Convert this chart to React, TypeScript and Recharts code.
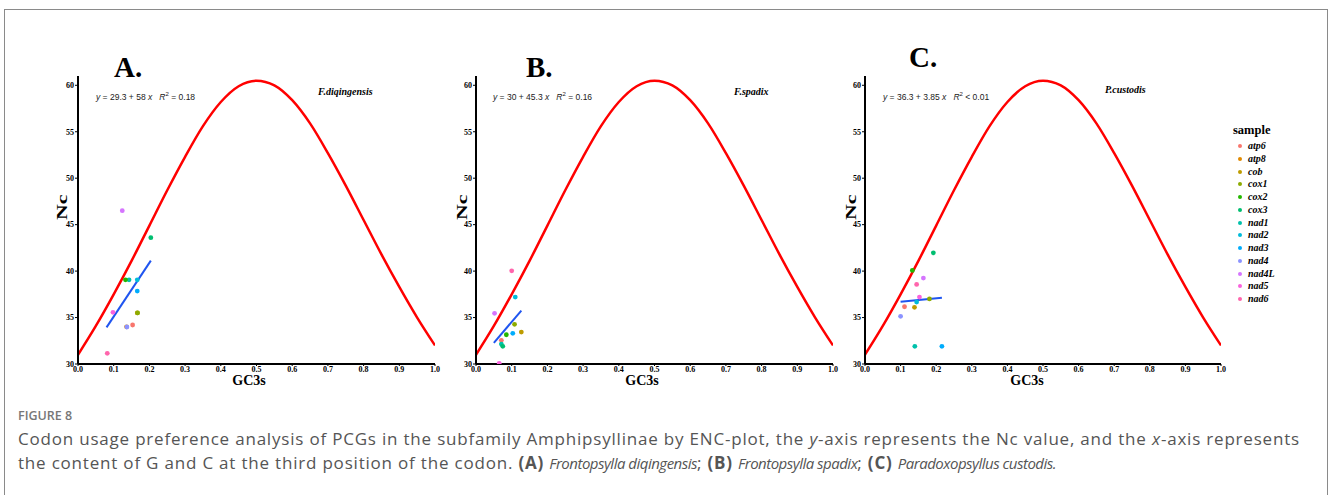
import React from 'react';
import { ComposedChart, Line, Scatter, Cell, XAxis, YAxis } from 'recharts';

// gene names and ggplot hue colours used in the legend
const genes = ['atp6', 'atp8', 'cob', 'cox1', 'cox2', 'cox3', 'nad1', 'nad2', 'nad3', 'nad4', 'nad4L', 'nad5', 'nad6'];
const geneColors = ['#F8766D', '#E18A00', '#BE9C00', '#8CAB00', '#24B700', '#00BE70', '#00C1AB', '#00BBDA', '#00ACFC', '#8B93FF', '#D575FE', '#F962DD', '#FF65AC'];

// expected ENC curve
const curveGc3 = [0, 0.05, 0.1, 0.15, 0.2, 0.25, 0.3, 0.35, 0.4, 0.45, 0.5, 0.55, 0.6, 0.65, 0.7, 0.75, 0.8, 0.85, 0.9, 0.95, 1.0];
const curveNc = [31.0, 34.1, 37.5, 41.1, 44.9, 48.7, 52.3, 55.6, 58.2, 59.9, 60.5, 60.0, 58.4, 55.9, 52.7, 49.2, 45.5, 41.8, 38.3, 35.0, 32.0];

const xTicks = [0, 0.1, 0.2, 0.3, 0.4, 0.5, 0.6, 0.7, 0.8, 0.9, 1.0];
const yTicks = [30, 35, 40, 45, 50, 55, 60];

// A. F.diqingensis
const genesA = ['atp8', 'nad4', 'atp6', 'cob', 'cox1', 'nad3', 'nad2', 'nad1', 'cox2', 'cox3', 'nad4L', 'nad5', 'nad6'];
const gc3A = [0.136, 0.137, 0.153, 0.166, 0.167, 0.166, 0.166, 0.143, 0.133, 0.204, 0.124, 0.098, 0.082];
const ncA = [34.0, 33.98, 34.2, 35.5, 35.5, 37.85, 39.06, 39.06, 39.06, 43.6, 46.5, 35.56, 31.15];
const fitA = { x: [0.08, 0.204], y: [33.94, 41.13] };

// B. F.spadix
const genesB = ['nad6', 'nad2', 'nad4L', 'cox1', 'cob', 'nad3', 'cox2', 'atp6', 'nad1', 'cox3', 'nad5'];
const gc3B = [0.1, 0.11, 0.052, 0.108, 0.127, 0.103, 0.085, 0.071, 0.071, 0.075, 0.065];
const ncB = [40.03, 37.2, 35.45, 34.27, 33.44, 33.3, 33.15, 32.55, 32.15, 31.9, 30.07];
const fitB = { x: [0.05, 0.127], y: [32.27, 35.75] };

// C. P.custodis
const genesC = ['cox3', 'cox2', 'nad4L', 'nad6', 'nad5', 'cox1', 'nad2', 'atp6', 'cob', 'nad4', 'nad1', 'nad3'];
const gc3C = [0.192, 0.133, 0.164, 0.145, 0.153, 0.181, 0.145, 0.111, 0.139, 0.1, 0.14, 0.216];
const ncC = [41.97, 40.07, 39.25, 38.57, 37.2, 37.0, 36.67, 36.16, 36.1, 35.13, 31.9, 31.9];
const fitC = { x: [0.1, 0.216], y: [36.69, 37.13] };

const serif = '"Liberation Serif", "Times New Roman", serif';
const sans = '"Liberation Sans", Arial, sans-serif';
const capFont = '"Open Sans", sans-serif';

const curve = curveGc3.map((x, i) => ({ x, y: curveNc[i] }));

type PanelProps = {
  left: number;
  mLeft: number;
  mRight: number;
  genesP: string[];
  gc3: number[];
  nc: number[];
  fit: { x: number[]; y: number[] };
};

const Dot = (props: any) => <circle cx={props.cx} cy={props.cy} r={2.4} fill={props.fill} />;

function Panel({ left, mLeft, mRight, genesP, gc3, nc, fit }: PanelProps) {
  const pts = gc3.map((x, i) => ({ x, y: nc[i], gene: genesP[i] }));
  const fitData = fit.x.map((x, i) => ({ x, y: fit.y[i] }));
  return (
    <div style={{ position: 'absolute', left, top: 0 }}>
      <ComposedChart width={460} height={400} margin={{ top: 76, right: mRight, left: mLeft, bottom: 16 }}>
        <XAxis
          type="number"
          dataKey="x"
          domain={[0, 1]}
          ticks={xTicks}
          tickFormatter={(v: number) => v.toFixed(1)}
          height={20}
          tickSize={2}
          tickMargin={0}
          axisLine={{ stroke: '#000', strokeWidth: 2 }}
          tickLine={{ stroke: '#000' }}
          tick={{ fontSize: 8, fontFamily: serif, fontWeight: 'bold', fill: '#000' }}
          allowDataOverflow
        />
        <YAxis
          type="number"
          dataKey="y"
          domain={[30, 61]}
          ticks={yTicks}
          width={30}
          tickSize={3}
          tickMargin={1}
          axisLine={{ stroke: '#000', strokeWidth: 2 }}
          tickLine={{ stroke: '#000' }}
          tick={{ fontSize: 8, fontFamily: serif, fontWeight: 'bold', fill: '#000' }}
          allowDataOverflow
        />
        <Line data={curve} dataKey="y" type="monotone" stroke="#FF0000" strokeWidth={2.5} dot={false} isAnimationActive={false} />
        <Line data={fitData} dataKey="y" type="linear" stroke="#1F55F0" strokeWidth={2} dot={false} isAnimationActive={false} />
        <Scatter data={pts} dataKey="y" isAnimationActive={false} shape={Dot}>
          {pts.map((p, i) => (
            <Cell key={i} fill={geneColors[genes.indexOf(p.gene)]} />
          ))}
        </Scatter>
      </ComposedChart>
    </div>
  );
}

const abs = (l: number, t: number, extra: React.CSSProperties = {}): React.CSSProperties => ({
  position: 'absolute',
  left: l,
  top: t,
  whiteSpace: 'nowrap',
  lineHeight: 1,
  ...extra,
});

function Eq({ l, t, a, b, r }: { l: number; t: number; a: string; b: string; r: string }) {
  return (
    <div style={abs(l, t, { fontFamily: sans, fontSize: 8.5, color: '#222' })}>
      <i>y</i> = {a} + {b} <i>x</i>&nbsp;&nbsp; <i>R</i>
      <sup style={{ fontSize: 6 }}>2</sup> {r}
    </div>
  );
}

const titleStyle: React.CSSProperties = { fontFamily: serif, fontWeight: 'bold', fontSize: 29, color: '#000' };
const speciesStyle: React.CSSProperties = { fontFamily: serif, fontWeight: 'bold', fontStyle: 'italic', fontSize: 10, color: '#000' };
const ncStyle: React.CSSProperties = {
  fontFamily: serif,
  fontWeight: 'bold',
  fontSize: 15,
  color: '#000',
  transform: 'rotate(-90deg) scaleX(1.45)',
  transformOrigin: 'left top',
};
const gcStyle: React.CSSProperties = { fontFamily: serif, fontWeight: 'bold', fontSize: 14, color: '#000', transform: 'translateX(-50%)' };
const capStyle: React.CSSProperties = { fontStyle: 'italic', fontSize: 15, letterSpacing: -0.5 };

export default function App() {
  return (
    <div style={{ position: 'absolute', left: 0, top: 0, width: 1328, height: 495, background: '#fff', overflow: 'hidden' }}>
      <div style={{ position: 'absolute', left: 4, top: 9, width: 1322, height: 520, border: '1px solid #8a8a8a' }} />

      <Panel left={0} mLeft={48} mRight={25} genesP={genesA} gc3={gc3A} nc={ncA} fit={fitA} />
      <Panel left={400} mLeft={46} mRight={27} genesP={genesB} gc3={gc3B} nc={ncB} fit={fitB} />
      <Panel left={790} mLeft={45} mRight={29} genesP={genesC} gc3={gc3C} nc={ncC} fit={fitC} />

      <div style={abs(114, 53, titleStyle)}>A.</div>
      <div style={abs(526, 53, titleStyle)}>B.</div>
      <div style={abs(909, 43, titleStyle)}>C.</div>

      <Eq l={96} t={91} a="29.3" b="58" r="= 0.18" />
      <Eq l={493} t={91} a="30" b="45.3" r="= 0.16" />
      <Eq l={883} t={91} a="36.3" b="3.85" r="< 0.01" />

      <div style={abs(318, 87, speciesStyle)}>F.diqingensis</div>
      <div style={abs(734, 87, speciesStyle)}>F.spadix</div>
      <div style={abs(1105, 85, speciesStyle)}>P.custodis</div>

      <div style={abs(55, 220, ncStyle)}>Nc</div>
      <div style={abs(455, 220, ncStyle)}>Nc</div>
      <div style={abs(844, 220, ncStyle)}>Nc</div>

      <div style={abs(249, 374, gcStyle)}>GC3s</div>
      <div style={abs(642, 374, gcStyle)}>GC3s</div>
      <div style={abs(1027, 374, gcStyle)}>GC3s</div>

      <div style={abs(1233, 124, { fontFamily: serif, fontWeight: 'bold', fontSize: 12.5, color: '#000' })}>sample</div>
      {genes.map((g, i) => (
        <div key={g} style={abs(1238, 141 + i * 12.75, { display: 'flex', alignItems: 'center' })}>
          <span style={{ width: 4, height: 4, borderRadius: 2, background: geneColors[i], display: 'inline-block', marginRight: 6 }} />
          <span style={{ fontFamily: serif, fontWeight: 'bold', fontStyle: 'italic', fontSize: 10, color: '#000' }}>{g}</span>
        </div>
      ))}

      <div style={abs(18, 410, { fontFamily: capFont, fontWeight: 600, fontSize: 12.5, color: '#777' })}>FIGURE 8</div>
      <div style={abs(18, 427, { fontFamily: capFont, fontSize: 17, letterSpacing: 0.8, color: '#555', lineHeight: '24px' })}>
        <div>
          Codon usage preference analysis of PCGs in the subfamily Amphipsyllinae by ENC-plot, the <i>y</i>-axis represents the Nc value, and the <i>x</i>-axis represents
        </div>
        <div>
          the content of G and C at the third position of the codon. <b>(A)</b> <i style={capStyle}>Frontopsylla diqingensis</i>; <b>(B)</b>{' '}
          <i style={capStyle}>Frontopsylla spadix</i>; <b>(C)</b> <i style={capStyle}>Paradoxopsyllus custodis.</i>
        </div>
      </div>
    </div>
  );
}
